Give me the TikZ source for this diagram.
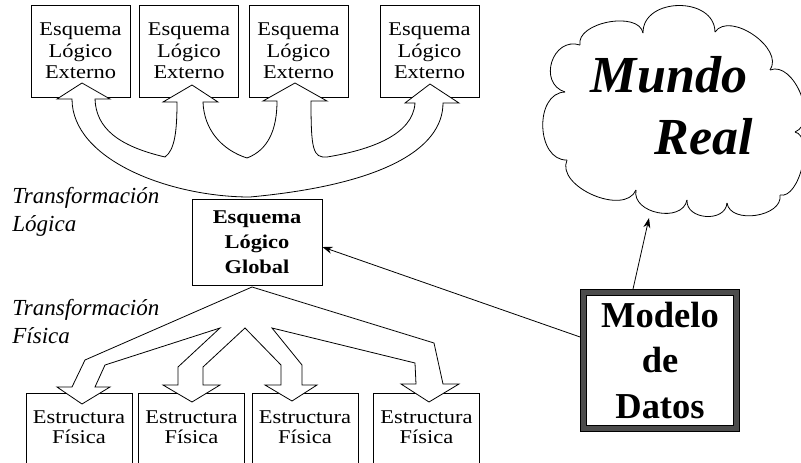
\documentclass[tikz,border=0pt]{standalone}
\usepackage{fontspec}
\setmainfont{Liberation Serif}
\newfontfamily\widefont{Liberation Serif}[FakeStretch=1.15]
\usetikzlibrary{arrows.meta,calc}

\begin{document}
\begin{tikzpicture}[
		x=1pt, y=-1pt,
		line width=0.8pt,
		esquema/.style={draw, align=center, inner sep=0pt, minimum width=99pt, minimum height=92pt, font=\widefont\fontsize{19.5}{21.5}\selectfont},
		global/.style={draw, align=center, inner sep=0pt, minimum width=130pt, minimum height=86pt, font=\widefont\bfseries\fontsize{19.5}{25}\selectfont},
		estructura/.style={draw, anchor=north, align=center, inner xsep=0pt, inner ysep=17pt, text width=106pt, text depth=60pt, font=\widefont\fontsize{19.5}{20}\selectfont},
		trans/.style={anchor=north west, align=left, inner sep=0pt, font=\itshape\fontsize{23}{27.5}\selectfont},
		modelo/.style={draw, double=black!70, double distance=5.2pt, outer sep=3.4pt, align=center, inner sep=0pt, minimum width=153pt, minimum height=136pt, font=\bfseries\fontsize{36.5}{45.5}\selectfont},
		mundo/.style={align=right, inner sep=0pt, font=\bfseries\itshape\fontsize{52}{62}\selectfont},
		block arrow/.style={draw, fill=white, line join=miter},
		link/.style={-{Stealth[length=10pt, width=7pt]}}
		]
		\useasboundingbox (0,0) rectangle (801,463);
		\clip (0,0) rectangle (801,463);
		
		% ---------------------------------------------------------
		% Esquemas externos (arriba)
		% ---------------------------------------------------------
		\foreach \n/\x in {1/80.5, 2/189, 3/298.5, 4/429.5} {
			\node[esquema] (e\n) at (\x,51) {Esquema\\Lógico\\Externo};
		}
		
		% Esquema global
		\node[global] (g) at (257,242) {Esquema\\Lógico\\Global};
		
		% ---------------------------------------------------------
		% Estructuras fisicas (abajo)
		% ---------------------------------------------------------
		\foreach \n/\x in {1/79, 2/191.5, 3/305, 4/426.5} {
			\node[estructura] (f\n) at (\x,393) {Estructura\\Física};
		}
		
		% Etiquetas de las transformaciones
		\node[trans] (tl) at (12,187) {Transformación\\Lógica};
		\node[trans] (tf) at (12,299) {Transformación\\Física};
		
		% ---------------------------------------------------------
		% Flecha ancha: global -> externos
		% ---------------------------------------------------------
		\draw[block arrow] (82,83) -- (110,99) -- (95,99)
			.. controls (96,128) and (118,146) .. (165,157)
			.. controls (175,150) and (177,130) .. (177,102)
			-- (163,102) -- (192,85) -- (218,102) -- (203,102)
			.. controls (204,130) and (222,150) .. (247,158)
			.. controls (268,150) and (277,130) .. (277,101)
			-- (263,101) -- (295,83) -- (327,101) -- (311,101)
			.. controls (311,150) and (313,158) .. (327,157)
			.. controls (370,150) and (413,135) .. (415,103)
			-- (405,103) -- (430,84) -- (459,103) -- (443,103)
			.. controls (443,150) and (380,185) .. (250,197)
			.. controls (170,197) and (72,160) .. (72,99)
			-- (57,99) -- cycle;
		
		% ---------------------------------------------------------
		% Flecha ancha: global -> estructuras
		% ---------------------------------------------------------
		\draw[block arrow] (252,287) -- (85,360) -- (72,387) -- (57,387) -- (82,404)
			-- (110,387) -- (95,387) -- (105,365) -- (220,328)
			-- (178,367) -- (178,385) -- (163,385) -- (192,402) -- (220,385) -- (203,385) -- (203,367)
			-- (245,328) -- (281,365) -- (281,385) -- (265,385) -- (292,401) -- (317,385) -- (302,385) -- (302,365)
			-- (272,328) -- (415,363) -- (416,384) -- (401,384) -- (429,402) -- (459,384) -- (443,384)
			-- (434,343) -- cycle;
		
		% ---------------------------------------------------------
		% Mundo real (nube)
		% ---------------------------------------------------------
		\foreach \px/\py/\qx/\qy/\b in {565/92/580/45/29, 580/45/643/33/23, 643/33/715/32/36,
			715/32/770/70/26, 770/70/795/132/26, 795/132/780/195/20, 780/195/727/203/22,
			727/203/687/200/20, 687/200/636/190/24, 636/190/567/160/29, 567/160/565/92/31} {
			\draw (\px,\py) .. controls ($(\px,\py)!\b pt!90:(\qx,\qy)$) and ($(\qx,\qy)!\b pt!-90:(\px,\py)$) .. (\qx,\qy);
		}
		\node[mundo] (mr) at (672,106) {Mundo\kern6pt\\Real};
		\coordinate (cb) at (649,218);
		
		% Modelo de datos
		\node[modelo] (m) at (660,360.5) {Modelo\\de\\Datos};
		
		\draw[link] ([xshift=-27pt]m.north) -- (cb);
		\draw[link] ([yshift=23.5pt]m.west) -- ([yshift=-5pt]g.east);
		
	\end{tikzpicture}
\end{document}
